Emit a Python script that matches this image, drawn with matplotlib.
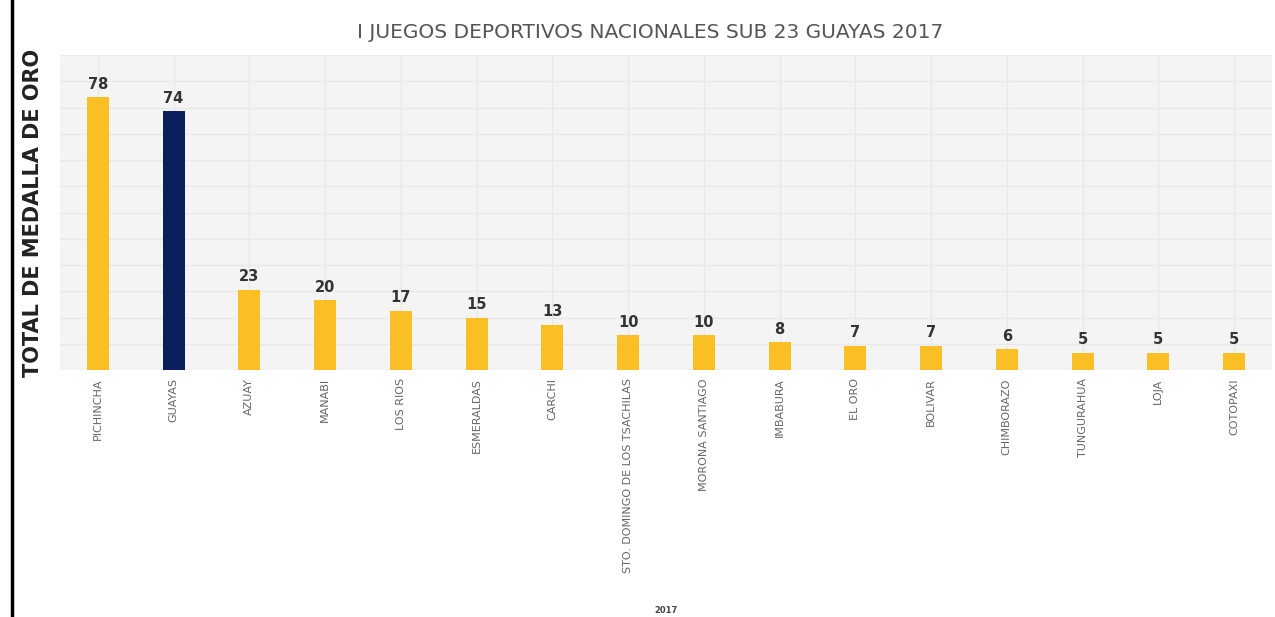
import numpy as np
import matplotlib.pyplot as plt
from matplotlib.ticker import MultipleLocator

provincias = ['PICHINCHA', 'GUAYAS', 'AZUAY', 'MANABI', 'LOS RIOS', 'ESMERALDAS',
              'CARCHI', 'STO. DOMINGO DE LOS TSACHILAS', 'MORONA SANTIAGO', 'IMBABURA',
              'EL ORO', 'BOLIVAR', 'CHIMBORAZO', 'TUNGURAHUA', 'LOJA', 'COTOPAXI']
medallas_oro = [78, 74, 23, 20, 17, 15, 13, 10, 10, 8, 7, 7, 6, 5, 5, 5]
destacado = 'GUAYAS'

amarillo = '#fbbf26'
azul = '#0b1f5c'

fig = plt.figure(figsize=(12.75, 6.17), dpi=100)
ax = fig.add_axes([60 / 1275, 247 / 617, 1212 / 1275, 315 / 617])
ax.set_facecolor('#f4f4f4')

x = np.arange(len(provincias))
colores = [azul if p == destacado else amarillo for p in provincias]
ax.bar(x, medallas_oro, width=0.29, color=colores, zorder=3)

for xi, v in zip(x, medallas_oro):
    ax.text(xi, v + 1.5, str(v), ha='center', va='bottom', fontsize=10.5,
            fontweight='bold', color='#333333', zorder=4)

ax.set_xlim(-0.5, len(provincias) - 0.5)
ax.set_ylim(0, 90)
ax.yaxis.set_major_locator(MultipleLocator(7.5))
ax.set_xticks(x)
ax.set_xticklabels(provincias, rotation=90, fontsize=8, color='#666666')
ax.set_yticklabels([])
ax.tick_params(length=0, pad=6)
ax.grid(True, color='#e9e9e9', linewidth=1.0, zorder=0)

for s in ax.spines.values():
    s.set_visible(False)

ax.set_ylabel('TOTAL DE MEDALLA DE ORO', fontsize=15, fontweight='bold',
              color='#222222', labelpad=6)
ax.set_xlabel('2017', fontsize=6, fontweight='bold', color='#444444')
ax.xaxis.set_label_coords(0.5, -0.75)

fig.text(650 / 1275, 1 - 32 / 617, 'I JUEGOS DEPORTIVOS NACIONALES SUB 23 GUAYAS 2017',
         ha='center', va='center', fontsize=14.5, color='#555555')

# linea negra del borde izquierdo
fig.add_artist(plt.Line2D([12 / 1275, 12 / 1275], [0, 1], color='black', linewidth=2.5))

fig.savefig('out.png', dpi=100)
